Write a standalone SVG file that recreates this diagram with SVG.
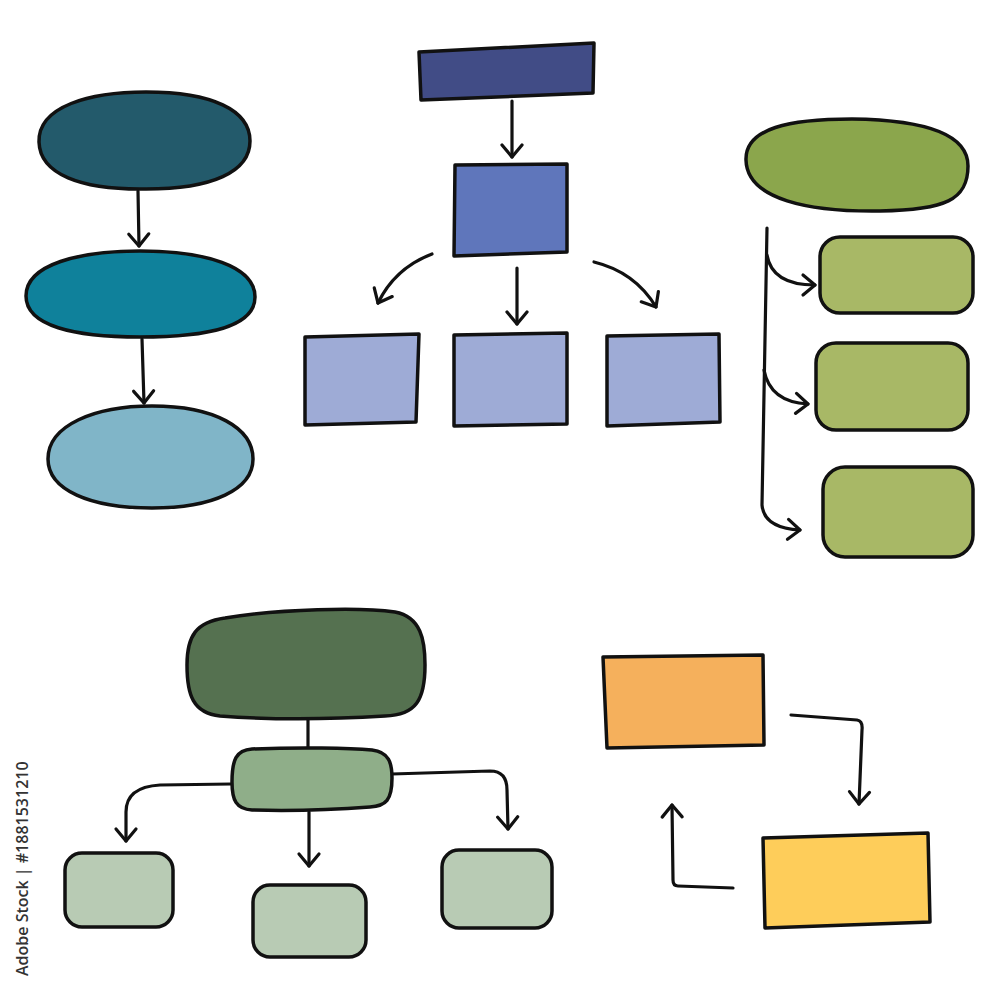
<svg xmlns="http://www.w3.org/2000/svg" width="1000" height="1000" viewBox="0 0 1000 1000">
<defs>
<style>
.n{stroke:#111;stroke-width:3.5;stroke-linejoin:round}
.c{fill:none;stroke:#111;stroke-width:3.2;stroke-linecap:round;stroke-linejoin:round}
.side{font-family:"Open Sans","Noto Sans",sans-serif;font-size:16px;font-weight:600;fill:#333}
</style>
<marker id="ah" markerUnits="userSpaceOnUse" markerWidth="28" markerHeight="28" viewBox="0 0 28 28" refX="18" refY="14" orient="auto">
<path d="M6,4 L18,14 L6,24" fill="none" stroke="#111" stroke-width="3.2" stroke-linecap="round" stroke-linejoin="round"/>
</marker>
</defs>
<rect width="1000" height="1000" fill="#fff"/>

<g id="connectors">
<path class="c" d="M138,191 L139,246" marker-end="url(#ah)"/>
<path class="c" d="M142,339 L144,403" marker-end="url(#ah)"/>
<path class="c" d="M512,101 L512,157" marker-end="url(#ah)"/>
<path class="c" d="M432,254 Q395,268 378,303" marker-end="url(#ah)"/>
<path class="c" d="M517,268 L517,324" marker-end="url(#ah)"/>
<path class="c" d="M594,262 Q635,272 656,307" marker-end="url(#ah)"/>
<path class="c" d="M767,228 L762,505 Q764,528 800,530" marker-end="url(#ah)"/>
<path class="c" d="M767,255 Q772,285 815,285" marker-end="url(#ah)"/>
<path class="c" d="M764,370 Q770,402 808,404" marker-end="url(#ah)"/>
<path class="c" d="M308,720 L308,747"/>
<path class="c" d="M231,784 L160,785 Q126,787 126,812 L126,841" marker-end="url(#ah)"/>
<path class="c" d="M309,812 L309,866" marker-end="url(#ah)"/>
<path class="c" d="M392,774 L490,771 Q507,771 507,790 L508,829" marker-end="url(#ah)"/>
<path class="c" d="M791,715 L857,720 Q863,721 862,730 L859,804" marker-end="url(#ah)"/>
<path class="c" d="M733,888 L678,886 Q673,886 673,880 L672,805" marker-end="url(#ah)"/>
</g>

<g id="teal1"><path class="n" fill="#235a6b" d="M39,142 C38,106 90,92 146,92 C212,92 250,110 250,141 C250,172 212,189 146,189 C80,190 40,174 39,142 Z"/></g>
<g id="teal2"><path class="n" fill="#0f819b" d="M26,296 C26,264 80,251 140,251 C205,251 255,266 255,297 C255,327 208,337 140,337 C74,337 26,326 26,296 Z"/></g>
<g id="teal3"><path class="n" fill="#80b5c8" d="M48,459 C48,425 95,406 152,406 C215,406 253,428 253,459 C253,490 212,508 152,508 C90,508 48,490 48,459 Z"/></g>

<g id="navy"><path class="n" fill="#414c86" d="M419,52 L594,43 L593,93 L421,100 Z"/></g>
<g id="blue"><path class="n" fill="#5f76bb" d="M455,165 L567,164 L567,252 L454,256 Z"/></g>
<g id="lblue1"><path class="n" fill="#9eabd6" d="M305,337 L419,334 L416,422 L305,425 Z"/></g>
<g id="lblue2"><path class="n" fill="#9eabd6" d="M454,335 L567,333 L567,424 L454,426 Z"/></g>
<g id="lblue3"><path class="n" fill="#9eabd6" d="M607,336 L719,334 L720,422 L607,426 Z"/></g>

<g id="olive"><path class="n" fill="#8ba64c" d="M746,160 C745,128 790,119 852,119 C930,120 968,136 968,166 C968,200 945,210 880,211 C810,212 747,200 746,160 Z"/></g>
<g id="olive1"><rect class="n" fill="#a8b866" x="820" y="237" width="153" height="76" rx="20"/></g>
<g id="olive2"><rect class="n" fill="#a8b866" x="816" y="343" width="152" height="87" rx="20"/></g>
<g id="olive3"><rect class="n" fill="#a8b866" x="823" y="467" width="150" height="90" rx="22"/></g>

<g id="forest"><path class="n" fill="#557150" d="M225,618 C280,609 360,607 395,612 C421,617 425,640 425,665 C425,700 416,715 385,716 C320,720 260,719 220,716 C193,713 187,695 187,665 C187,636 196,622 225,618 Z"/></g>
<g id="sage"><path class="n" fill="#8fae89" d="M252,749 C300,747 350,748 372,750 C389,752 392,763 392,778 C392,800 386,806 370,807 C330,810 290,811 252,810 C236,809 232,800 232,782 C232,760 236,750 252,749 Z"/></g>
<g id="leaf1"><rect class="n" fill="#b8cbb4" x="65" y="853" width="108" height="74" rx="17"/></g>
<g id="leaf2"><rect class="n" fill="#b8cbb4" x="253" y="885" width="113" height="72" rx="17"/></g>
<g id="leaf3"><rect class="n" fill="#b8cbb4" x="442" y="850" width="110" height="78" rx="17"/></g>

<g id="orange"><path class="n" fill="#f5b05c" d="M603,657 L763,655 L764,745 L607,748 Z"/></g>
<g id="yellow"><path class="n" fill="#fecd5a" d="M763,838 L928,833 L930,922 L765,928 Z"/></g>

<text class="side" transform="translate(28,976) rotate(-90)">Adobe Stock | #1881531210</text>
</svg>
